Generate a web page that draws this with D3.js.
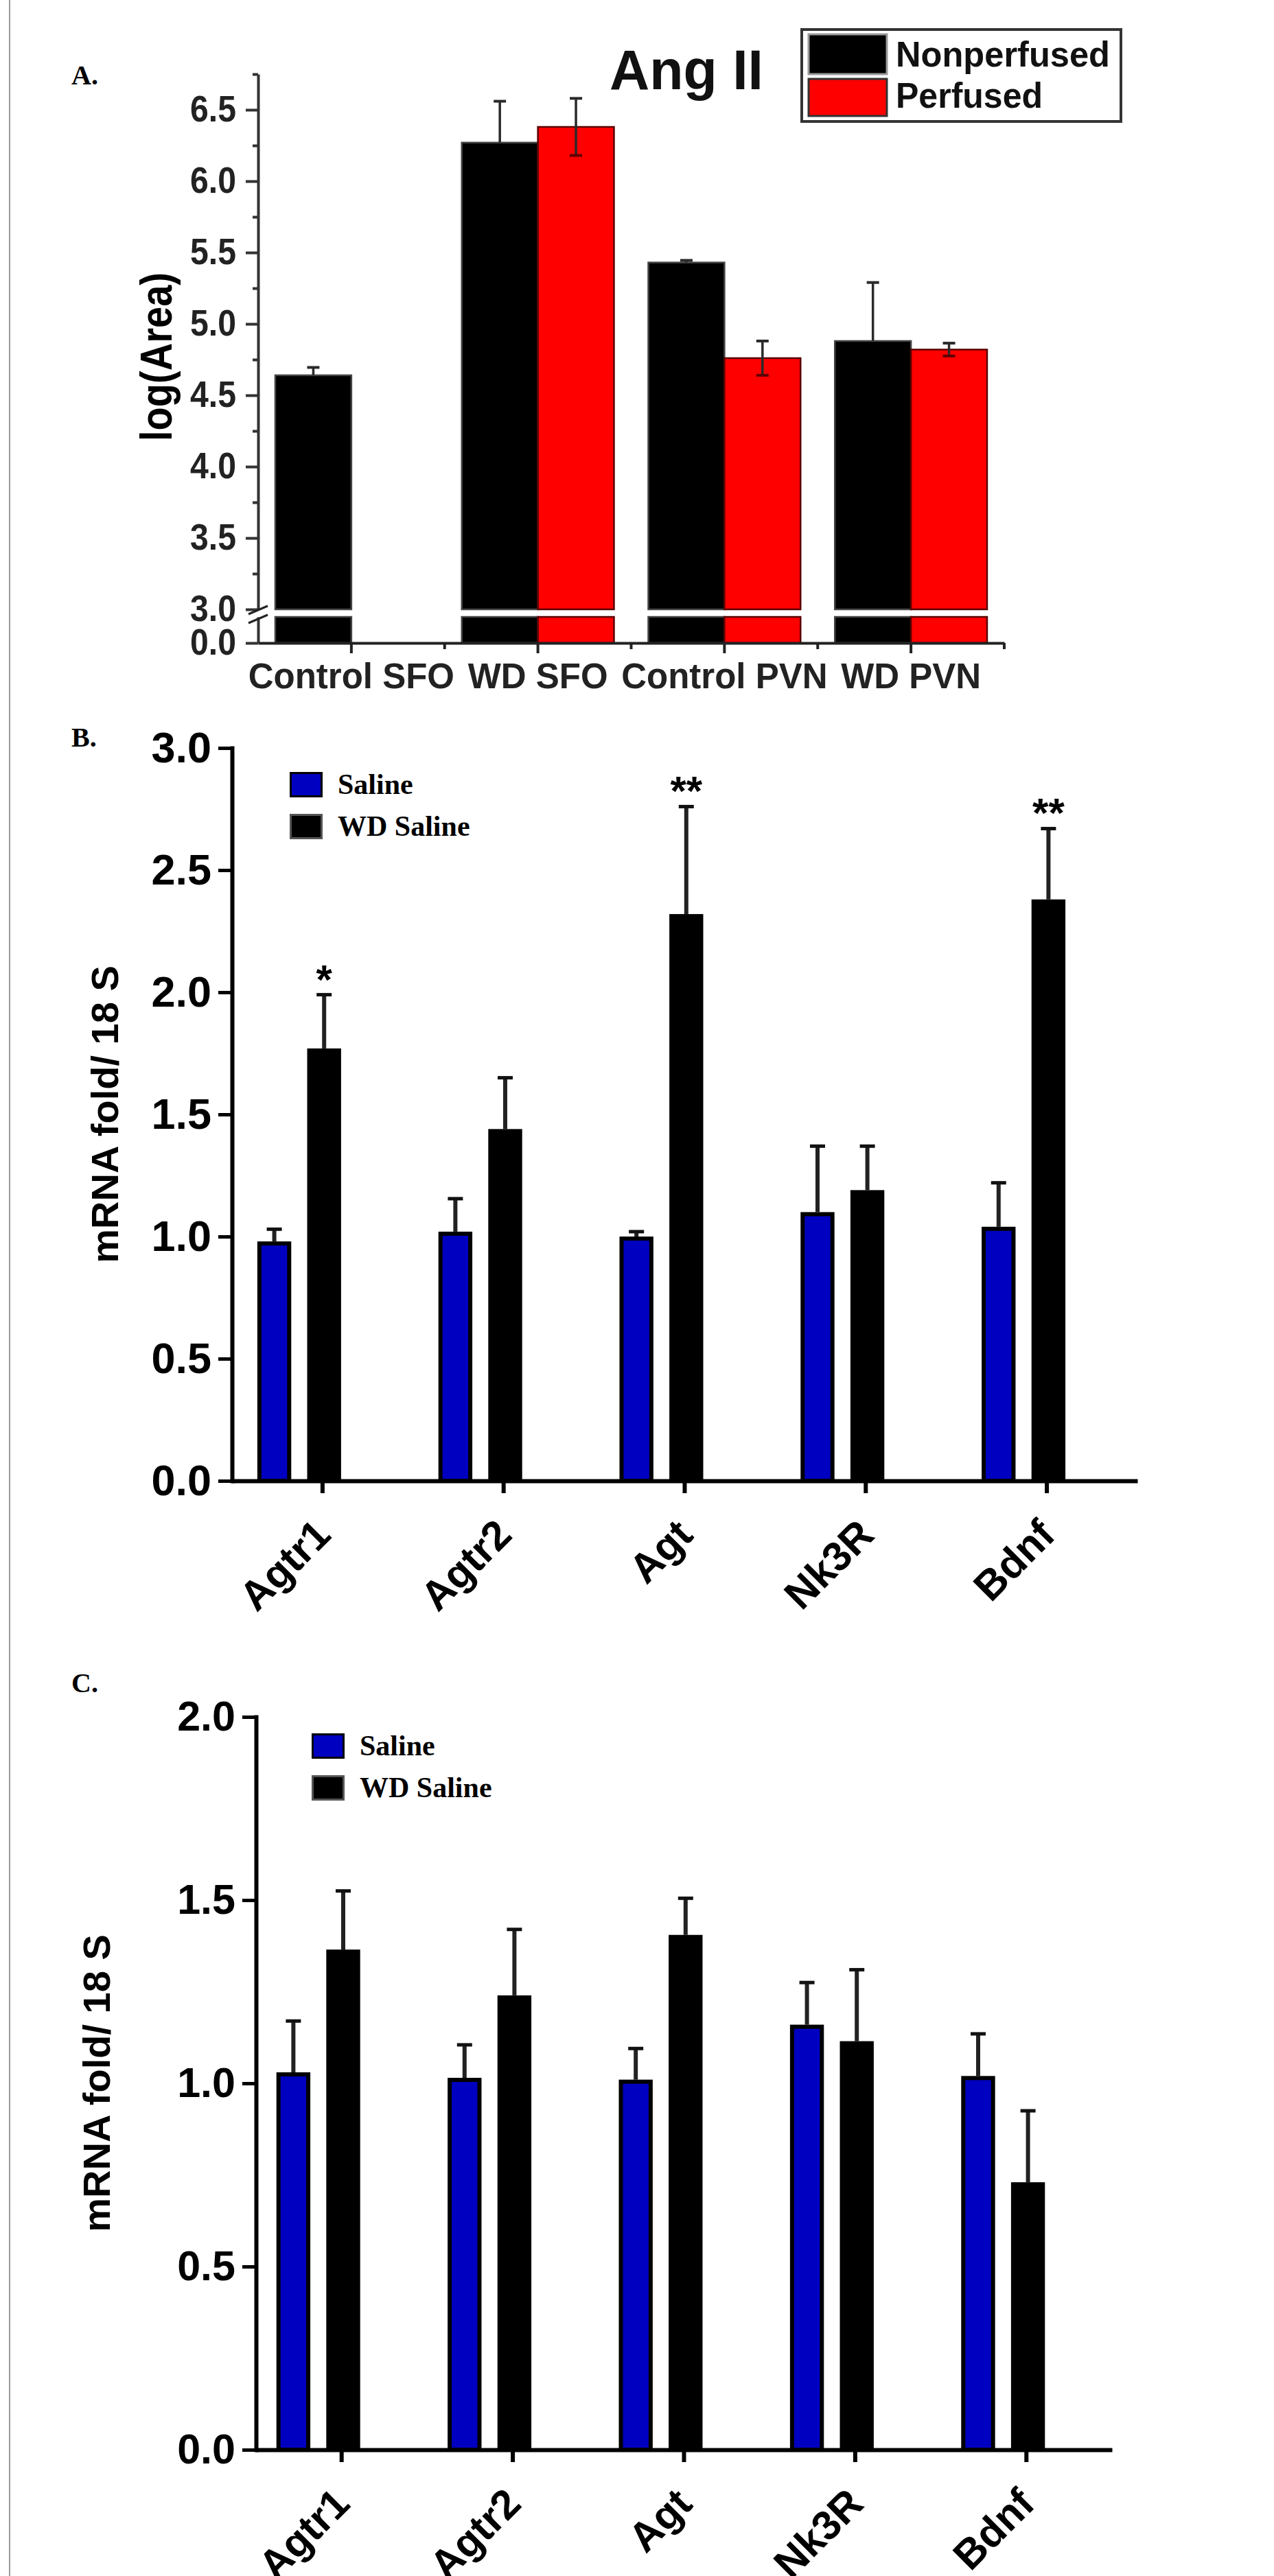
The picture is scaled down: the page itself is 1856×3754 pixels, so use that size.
<!DOCTYPE html>
<html><head><meta charset="utf-8">
<script src="https://cdn.jsdelivr.net/npm/d3@7"></script>
<style>body{margin:0;background:#fff} svg{display:block}</style>
</head><body>
<svg id="chart" width="1856" height="3754"></svg>
<script>
// ---------- Panel A data ----------
const groupsA = ["Control SFO", "WD SFO", "Control PVN", "WD PVN"];
const seriesA = ["Nonperfused", "Perfused"];
const nonperfusedA = [4.64, 6.27, 5.43, 4.88];
const nonperfusedErrA = [0.055, 0.29, 0.015, 0.41];
const perfusedA = [null, 6.38, 4.76, 4.82];
const perfusedErrA = [null, 0.2, 0.12, 0.045];
const yTicksA = [3.0, 3.5, 4.0, 4.5, 5.0, 5.5, 6.0, 6.5];
const yMinorTicksA = [3.25, 3.75, 4.25, 4.75, 5.25, 5.75, 6.25, 6.75];
const yBreakTicksA = [0.0];

// ---------- Panel B / C data ----------
const genes = ["Agtr1", "Agtr2", "Agt", "Nk3R", "Bdnf"];
const seriesBC = ["Saline", "WD Saline"];
const salineB = [0.98, 1.02, 1.00, 1.10, 1.04];
const salineErrB = [0.05, 0.135, 0.02, 0.27, 0.18];
const wdSalineB = [1.77, 1.44, 2.32, 1.19, 2.38];
const wdSalineErrB = [0.22, 0.21, 0.44, 0.18, 0.29];
const starsB = ["*", "", "**", "", "**"];
const yTicksB = [0, 0.5, 1.0, 1.5, 2.0, 2.5, 3.0];

const salineC = [1.03, 1.015, 1.01, 1.16, 1.02];
const salineErrC = [0.14, 0.09, 0.085, 0.115, 0.115];
const wdSalineC = [1.365, 1.24, 1.405, 1.115, 0.73];
const wdSalineErrC = [0.16, 0.18, 0.10, 0.195, 0.195];
const starsC = ["", "", "", "", ""];
const yTicksC = [0, 0.5, 1.0, 1.5, 2.0];

const SANS = "'Liberation Sans', Arial, sans-serif";
const SERIF = "'Liberation Serif', 'Times New Roman', serif";
const svg = d3.select("#chart");

// page left border
svg.append("line").attr("x1", 14).attr("x2", 14).attr("y1", 0).attr("y2", 3754)
  .attr("stroke", "#9a9a9a").attr("stroke-width", 2);

// panel letters
svg.selectAll("text.panel").data([["A.", 104, 123], ["B.", 104, 1088], ["C.", 104, 2466]])
  .join("text").attr("class", "panel")
  .attr("x", d => d[1]).attr("y", d => d[2]).text(d => d[0])
  .attr("font-family", SERIF).attr("font-weight", "bold").attr("font-size", 40).attr("fill", "#000");

// ================= PANEL A =================
(function () {
  const g = svg.append("g");
  const xA = d3.scaleBand().domain(groupsA).range([376, 1463]).paddingInner(0.184).paddingOuter(0.092);
  const xSub = d3.scaleBand().domain(seriesA).range([0, xA.bandwidth()]);
  const yA = d3.scaleLinear().domain([3, 6.75]).range([888, 108]);
  const yA0 = d3.scaleLinear().domain([0, 0.2]).range([937, 899]);
  const color = d3.scaleOrdinal().domain(seriesA).range(["#000000", "#ff0000"]);
  const rows = groupsA.flatMap((k, i) => [
    { k, s: "Nonperfused", v: nonperfusedA[i], e: nonperfusedErrA[i] },
    { k, s: "Perfused", v: perfusedA[i], e: perfusedErrA[i] }
  ]).filter(d => d.v != null);

  // upper bar segments
  g.selectAll("rect.top").data(rows).join("rect").attr("class", "top")
    .attr("x", d => xA(d.k) + xSub(d.s)).attr("width", xSub.bandwidth())
    .attr("y", d => yA(d.v)).attr("height", d => yA(3) - yA(d.v))
    .attr("fill", d => color(d.s))
    .attr("stroke", d => d.s === "Perfused" ? "#5a0000" : "#444").attr("stroke-width", 2.5);
  // lower (below break) segments
  g.selectAll("rect.bot").data(rows).join("rect").attr("class", "bot")
    .attr("x", d => xA(d.k) + xSub(d.s)).attr("width", xSub.bandwidth())
    .attr("y", yA0(0.2)).attr("height", yA0(0) - yA0(0.2))
    .attr("fill", d => color(d.s))
    .attr("stroke", d => d.s === "Perfused" ? "#5a0000" : "#444").attr("stroke-width", 2.5);

  // error bars (full for perfused, upper only for nonperfused)
  const eb = g.selectAll("g.err").data(rows).join("g").attr("class", "err")
    .attr("transform", d => `translate(${xA(d.k) + xSub(d.s) + xSub.bandwidth() / 2},0)`);
  eb.append("line").attr("x1", 0).attr("x2", 0)
    .attr("y1", d => d.s === "Perfused" ? yA(d.v - d.e) : yA(d.v)).attr("y2", d => yA(d.v + d.e))
    .attr("stroke", "#2a2a2a").attr("stroke-width", 3.5);
  eb.append("line").attr("x1", -9).attr("x2", 9)
    .attr("y1", d => yA(d.v + d.e)).attr("y2", d => yA(d.v + d.e))
    .attr("stroke", "#2a2a2a").attr("stroke-width", 4);
  eb.filter(d => d.s === "Perfused").append("line").attr("x1", -9).attr("x2", 9)
    .attr("y1", d => yA(d.v - d.e)).attr("y2", d => yA(d.v - d.e))
    .attr("stroke", "#600000").attr("stroke-width", 4);

  // y axis (upper)
  const ya = g.append("g").attr("transform", "translate(376,0)")
    .call(d3.axisLeft(yA).tickValues(yTicksA).tickSize(18).tickSizeOuter(0).tickPadding(14).tickFormat(d3.format(".1f")));
  const yaMinor = g.append("g").attr("transform", "translate(376,0)")
    .call(d3.axisLeft(yA).tickValues(yMinorTicksA).tickSize(8).tickSizeOuter(0).tickFormat(""));
  yaMinor.select(".domain").remove();
  const ya0 = g.append("g").attr("transform", "translate(376,0)")
    .call(d3.axisLeft(yA0).tickValues(yBreakTicksA).tickSize(18).tickSizeOuter(0).tickPadding(14).tickFormat(d3.format(".1f")));
  [ya, yaMinor, ya0].forEach(a => {
    a.select(".domain").attr("stroke", "#333").attr("stroke-width", 4);
    a.selectAll(".tick line").attr("stroke", "#333").attr("stroke-width", 4);
    a.selectAll(".tick text").attr("font-family", SANS).attr("font-weight", "bold").attr("font-size", 53).attr("fill", "#222")
      .attr("textLength", 67).attr("lengthAdjust", "spacingAndGlyphs");
  });
  // axis break marks
  const b1 = yA(3), b2 = yA0(0.2);
  g.selectAll("line.brk").data([b1 + 2, b2 + 4]).join("line").attr("class", "brk")
    .attr("x1", 376 - 14).attr("x2", 376 + 14)
    .attr("y1", d => d + 5).attr("y2", d => d - 7)
    .attr("stroke", "#222").attr("stroke-width", 3);

  // x axis
  const xa = g.append("g").attr("transform", `translate(0,${yA0(0)})`)
    .call(d3.axisBottom(xA).tickSize(15).tickSizeOuter(0).tickFormat(""));
  xa.select(".domain").attr("stroke", "#222").attr("stroke-width", 4);
  xa.selectAll(".tick line").attr("stroke", "#222").attr("stroke-width", 4);
  const gap = xA.step() - xA.bandwidth();
  g.selectAll("line.xminor").data(groupsA).join("line").attr("class", "xminor")
    .attr("x1", k => xA(k) + xA.bandwidth() + gap / 2).attr("x2", k => xA(k) + xA.bandwidth() + gap / 2)
    .attr("y1", yA0(0)).attr("y2", yA0(0) + 9)
    .attr("stroke", "#222").attr("stroke-width", 4);
  g.selectAll("text.xl").data(groupsA).join("text").attr("class", "xl")
    .attr("x", k => xA(k) + xA.bandwidth() / 2).attr("y", yA0(0) + 66)
    .attr("text-anchor", "middle").attr("font-family", SANS).attr("font-weight", "bold").attr("font-size", 51)
    .attr("fill", "#222").text(k => k);

  // y label
  g.append("text").attr("transform", "translate(250,520) rotate(-90)")
    .attr("text-anchor", "middle").attr("font-family", SANS).attr("font-weight", "bold")
    .attr("font-size", 64).attr("textLength", 246).attr("lengthAdjust", "spacingAndGlyphs")
    .attr("fill", "#000").text("log(Area)");

  // title
  g.append("text").attr("x", 1000).attr("y", 130).attr("text-anchor", "middle")
    .attr("font-family", SANS).attr("font-weight", "bold").attr("font-size", 82)
    .attr("textLength", 224).attr("lengthAdjust", "spacingAndGlyphs")
    .attr("fill", "#111").text("Ang II");

  // legend
  const lg = g.append("g").attr("transform", "translate(1168,43)");
  lg.append("rect").attr("x", 0).attr("y", 0).attr("width", 465).attr("height", 134)
    .attr("fill", "#fff").attr("stroke", "#333").attr("stroke-width", 4);
  lg.selectAll("rect.sw").data(seriesA).join("rect").attr("class", "sw")
    .attr("x", 10).attr("y", (d, i) => 7 + i * 65).attr("width", 114).attr("height", (d, i) => i ? 54 : 58)
    .attr("fill", d => color(d)).attr("stroke", (d, i) => i ? "#333" : "#999").attr("stroke-width", 3);
  lg.selectAll("text.lt").data(seriesA).join("text").attr("class", "lt")
    .attr("x", 137).attr("y", (d, i) => 54 + i * 60)
    .attr("font-family", SANS).attr("font-weight", "bold").attr("font-size", 52).attr("fill", "#111")
    .attr("textLength", (d, i) => i ? 214 : 312).attr("lengthAdjust", "spacingAndGlyphs")
    .text(d => d);
})();

// ================= PANELS B & C =================
function genePanel(cfg) {
  const g = svg.append("g");
  const x = d3.scaleBand().domain(genes).range(cfg.xRange);
  const xs = d3.scaleBand().domain(seriesBC).range([-95, 27]).paddingInner(0.32);
  const y = d3.scaleLinear().domain(cfg.yDomain).range(cfg.yRange);
  const color = d3.scaleOrdinal().domain(seriesBC).range(["#0000C0", "#000000"]);
  const cx = k => x(k) + x.bandwidth() / 2;
  const rows = genes.flatMap((k, i) => [
    { k, i, s: "Saline", v: cfg.saline[i], e: cfg.salineErr[i] },
    { k, i, s: "WD Saline", v: cfg.wd[i], e: cfg.wdErr[i] }
  ]);

  // error bars (upper only)
  const eb = g.selectAll("g.err").data(rows).join("g").attr("class", "err")
    .attr("transform", d => `translate(${cx(d.k) + xs(d.s) + xs.bandwidth() / 2},0)`);
  eb.append("line").attr("x1", 0).attr("x2", 0)
    .attr("y1", d => y(d.v)).attr("y2", d => y(d.v + d.e))
    .attr("stroke", "#222").attr("stroke-width", 6);
  eb.append("line").attr("x1", -11).attr("x2", 11)
    .attr("y1", d => y(d.v + d.e)).attr("y2", d => y(d.v + d.e))
    .attr("stroke", "#111").attr("stroke-width", 5);

  // bars
  g.selectAll("rect.bar").data(rows).join("rect").attr("class", "bar")
    .attr("x", d => cx(d.k) + xs(d.s) + 3).attr("width", xs.bandwidth() - 6)
    .attr("y", d => y(d.v) + 3).attr("height", d => y(0) - y(d.v) - 3)
    .attr("fill", d => color(d.s)).attr("stroke", "#000").attr("stroke-width", 6);

  // stars
  g.selectAll("text.star").data(rows.filter(d => d.s === "WD Saline" && cfg.stars[d.i]))
    .join("text").attr("class", "star")
    .attr("x", d => cx(d.k) + xs(d.s) + xs.bandwidth() / 2).attr("y", d => y(d.v + d.e) - 2)
    .attr("text-anchor", "middle").attr("font-family", SANS).attr("font-weight", "bold")
    .attr("font-size", 60).attr("fill", "#000").text(d => cfg.stars[d.i]);

  // y axis
  const ya = g.append("g").attr("transform", `translate(${cfg.xRange[0]},0)`)
    .call(d3.axisLeft(y).tickValues(cfg.yTicks).tickSize(20).tickSizeOuter(0).tickPadding(10).tickFormat(d3.format(".1f")));
  ya.select(".domain").attr("stroke", "#000").attr("stroke-width", 6).attr("stroke-linecap", "square");
  ya.selectAll(".tick line").attr("stroke", "#000").attr("stroke-width", 5);
  ya.selectAll(".tick text").attr("font-family", SANS).attr("font-weight", "bold")
    .attr("font-size", cfg.tickFont).attr("fill", "#000");

  // x axis
  const xa = g.append("g").attr("transform", `translate(0,${y(0)})`)
    .call(d3.axisBottom(x).tickSize(18).tickSizeOuter(0).tickFormat(""));
  xa.select(".domain").attr("stroke", "#000").attr("stroke-width", 6);
  xa.selectAll(".tick line").attr("stroke", "#000").attr("stroke-width", 6);
  g.selectAll("text.xl").data(genes).join("text").attr("class", "xl")
    .attr("transform", k => `translate(${cx(k) + 15},${y(0) + 82}) rotate(-45)`)
    .attr("text-anchor", "end").attr("font-family", SANS).attr("font-weight", "bold")
    .attr("font-size", 60).attr("fill", "#000").text(k => k);

  // y label
  g.append("text").attr("transform", `translate(${cfg.ylab[0]},${cfg.ylab[1]}) rotate(-90)`)
    .attr("text-anchor", "middle").attr("font-family", SANS).attr("font-weight", "bold").attr("font-size", 56)
    .attr("fill", "#000").text("mRNA fold/ 18 S");

  // legend
  const lg = g.append("g").attr("transform", `translate(${cfg.legend[0]},${cfg.legend[1]})`);
  lg.selectAll("rect").data(seriesBC).join("rect")
    .attr("x", 1.5).attr("y", (d, i) => i * 61 + 1.5).attr("width", 45).attr("height", 34)
    .attr("fill", d => color(d)).attr("stroke", (d, i) => i ? "#555" : "#000").attr("stroke-width", 3);
  lg.selectAll("text").data(seriesBC).join("text")
    .attr("x", 70).attr("y", (d, i) => i * 61 + 32)
    .attr("font-family", SERIF).attr("font-weight", "bold").attr("font-size", 42)
    .attr("fill", "#000").text(d => d);
}

genePanel({
  xRange: [338, 1657], yDomain: [0, 3], yRange: [2158, 1090], yTicks: yTicksB, tickFont: 63,
  saline: salineB, salineErr: salineErrB, wd: wdSalineB, wdErr: wdSalineErrB, stars: starsB,
  ylab: [172, 1624], legend: [422, 1125]
});
genePanel({
  xRange: [373, 1620], yDomain: [0, 2], yRange: [3570, 2502], yTicks: yTicksC, tickFont: 61,
  saline: salineC, salineErr: salineErrC, wd: wdSalineC, wdErr: wdSalineErrC, stars: starsC,
  ylab: [160, 3036], legend: [454, 2526]
});
</script>
</body></html>
